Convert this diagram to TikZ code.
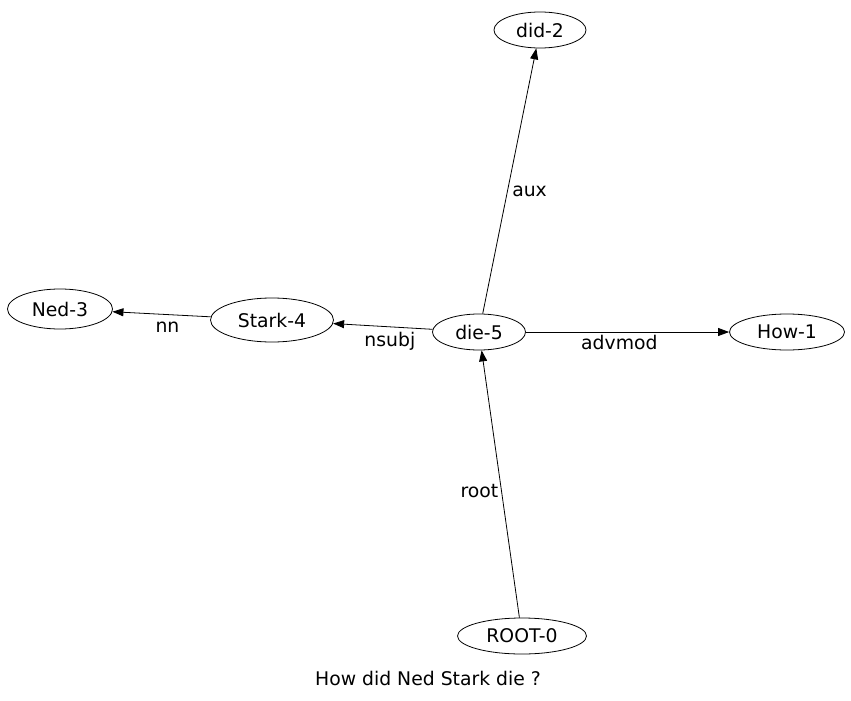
\documentclass[tikz,border=0pt]{standalone}
\usepackage{fontspec}
\setmainfont{DejaVu Sans}
\usetikzlibrary{shapes.geometric,arrows.meta}
\begin{document}
\begin{tikzpicture}[x=1pt,y=-1pt,
  tok/.style={draw,ellipse,inner sep=0pt,minimum height=36pt,line width=0.8pt,font=\fontsize{18.8}{21}\selectfont},
  dep/.style={-{Triangle[length=11pt,width=8pt]},line width=0.8pt},
  lbl/.style={font=\fontsize{18.8}{21}\selectfont,inner sep=0pt}]
\useasboundingbox (0,0) rectangle (851,701);
\node[tok,minimum width=92pt] (did) at (540,30) {did-2};
\node[tok,minimum width=105pt,minimum height=40pt] (ned) at (60,309) {Ned-3};
\node[tok,minimum width=123pt,minimum height=44pt] (stark) at (272,320) {Stark-4};
\node[tok,minimum width=93pt] (die) at (479,332) {die-5};
\node[tok,minimum width=115pt] (how) at (787,332) {How-1};
\node[tok,minimum width=129pt] (root) at (522,636) {ROOT-0};
\node[lbl,anchor=base] (cap) at (428,685) {How did Ned Stark die ?};
\draw[dep] (die) -- node[lbl,pos=0.47,anchor=base west,xshift=4pt,yshift=-8pt] {aux} (did);
\draw[dep] (die) -- node[lbl,pos=0.43,anchor=base,yshift=-20pt] {nsubj} (stark);
\draw[dep] (stark) -- node[lbl,pos=0.44,anchor=base,yshift=-17.5pt] {nn} (ned);
\draw[dep] (die) -- node[lbl,pos=0.46,anchor=base,yshift=-17pt] {advmod} (how);
\draw[dep] (root) -- node[lbl,pos=0.47,anchor=base east,xshift=-3pt,yshift=-5pt] {root} (die);
\end{tikzpicture}
\end{document}
